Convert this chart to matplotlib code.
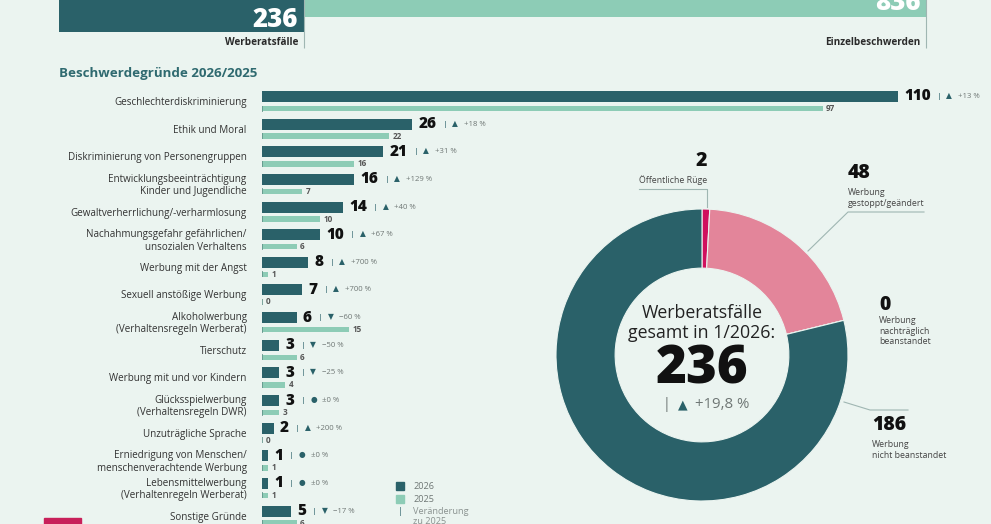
import matplotlib.pyplot as plt
from matplotlib.patches import Rectangle

plt.rcParams['font.family'] = ['Open Sans', 'DejaVu Sans']

# colours
BG = "#EBF4F0"
DARK = "#2A6169"
LIGHT = "#8DCCB6"
PINK = "#E3859A"
CRIMSON = "#D0105E"
TXT = "#2b2b2b"
GREY = "#6f7775"
LINE = "#9fb6b2"

# ---- data ----
top_values = [236, 836]
top_labels = ["Werberatsfälle", "Einzelbeschwerden"]

categories = [
    "Geschlechterdiskriminierung",
    "Ethik und Moral",
    "Diskriminierung von Personengruppen",
    "Entwicklungsbeeinträchtigung\nKinder und Jugendliche",
    "Gewaltverherrlichung/-verharmlosung",
    "Nachahmungsgefahr gefährlichen/\nunsozialen Verhaltens",
    "Werbung mit der Angst",
    "Sexuell anstößige Werbung",
    "Alkoholwerbung\n(Verhaltensregeln Werberat)",
    "Tierschutz",
    "Werbung mit und vor Kindern",
    "Glücksspielwerbung\n(Verhaltensregeln DWR)",
    "Unzuträgliche Sprache",
    "Erniedrigung von Menschen/\nmenschenverachtende Werbung",
    "Lebensmittelwerbung\n(Verhaltenregeln Werberat)",
    "Sonstige Gründe",
]
v2026 = [110, 26, 21, 16, 14, 10, 8, 7, 6, 3, 3, 3, 2, 1, 1, 5]
v2025 = [97, 22, 16, 7, 10, 6, 1, 0, 15, 6, 4, 3, 0, 1, 1, 6]
changes = ["+13 %", "+18 %", "+31 %", "+129 %", "+40 %", "+67 %", "+700 %", "+700 %",
           "\u221260 %", "\u221250 %", "\u221225 %", "±0 %", "+200 %", "±0 %", "±0 %", "\u221217 %"]

decision_values = [2, 48, 0, 186]
decision_names = ["Öffentliche Rüge", "Werbung\ngestoppt/geändert",
                  "Werbung\nnachträglich\nbeanstandet", "Werbung\nnicht beanstandet"]
decision_colors = [CRIMSON, PINK, "#bbbbbb", DARK]
total_cases = 236
total_change = "+19,8 %"

W, H = 991, 524


def box(l, t, w, h):
    return [l / W, 1 - (t + h) / H, w / W, h / H]


def symbol(ch):
    if ch.startswith("+"):
        return "\u25B2"
    if ch.startswith("±"):
        return "\u25CF"
    return "\u25BC"


fig = plt.figure(figsize=(W / 100, H / 100), dpi=100, facecolor=BG)

# pixel canvas for free text / decoration
cv = fig.add_axes([0, 0, 1, 1])
cv.set_xlim(0, W); cv.set_ylim(H, 0); cv.axis("off")

# ---- top bar ----
axt = fig.add_axes(box(59, -10, 867, 41.5))
axt.set_xlim(0, top_values[1]); axt.set_ylim(1, 0); axt.axis("off")
axt.barh(0.32, top_values[1], height=0.64, color=LIGHT)
axt.barh(0.5, top_values[0], height=1.0, color=DARK)
axt.vlines(top_values, 0, 1.39, color=LINE, lw=0.8, clip_on=False)
for v, yb in zip(top_values, [0.89, 0.49]):
    axt.annotate(str(v), xy=(v, yb), xytext=(-4, 0), textcoords="offset points",
                 ha="right", va="baseline", color="white", fontsize=18.5, fontweight=800)
for v, lab in zip(top_values, top_labels):
    axt.annotate(lab, xy=(v, 1.27), xytext=(-4, 0), textcoords="offset points",
                 ha="right", va="center", color=TXT, fontsize=7.2, fontweight="bold",
                 annotation_clip=False)

cv.text(59, 73, "Beschwerdegründe 2026/2025", ha="left", va="center",
        color="#2F6A70", fontsize=9.6, fontweight="bold")

# ---- bar chart ----
ROW = 27.64
axb = fig.add_axes(box(262, 85, 729, 439))
axb.set_xlim(0, 729 / 5.78)
axb.set_ylim((524 - 96.5) / ROW, (85 - 96.5) / ROW)
axb.axis("off")
rows = list(range(len(categories)))
off = 12 / ROW
axb.barh(rows, v2026, height=11 / ROW, color=DARK)
axb.barh([r + off for r in rows], v2025, height=5.5 / ROW, color=LIGHT)
axb.vlines([0] * len(rows), [r + off - 3 / ROW for r in rows],
           [r + off + 3 / ROW for r in rows], color="#5d8f86", lw=1.1)

for i, cat in enumerate(categories):
    axb.annotate(cat, xy=(0, i + off / 2), xytext=(-11, 0), textcoords="offset points",
                 ha="right", va="center", ma="right", fontsize=7.1, color="#333333",
                 annotation_clip=False)
    num = axb.annotate(str(v2026[i]), xy=(v2026[i], i), xytext=(4.5, 0),
                       textcoords="offset points", ha="left", va="center",
                       fontsize=11, fontweight=800, color="#111111")
    pipe = axb.annotate("|", xy=(1, 0.5), xycoords=num, xytext=(4.5, 0),
                        textcoords="offset points", ha="left", va="center",
                        fontsize=6, color=DARK)
    tri = axb.annotate(symbol(changes[i]), xy=(1, 0.5), xycoords=pipe, xytext=(3.5, 0),
                       textcoords="offset points", ha="left", va="center",
                       fontsize=5.5, color=DARK)
    axb.annotate(changes[i], xy=(1, 0.5), xycoords=tri, xytext=(4, 0),
                 textcoords="offset points", ha="left", va="center",
                 fontsize=5.6, color=GREY)
    axb.annotate(str(v2025[i]), xy=(v2025[i], i + off), xytext=(2.5, 0),
                 textcoords="offset points", ha="left", va="center",
                 fontsize=5.9, fontweight="bold", color="#555555")

# legend
cv.add_patch(Rectangle((396, 482), 8, 8, color=DARK))
cv.add_patch(Rectangle((396, 495), 8, 8, color=LIGHT))
cv.text(413, 486.5, "2026", fontsize=6.6, color=GREY, va="center")
cv.text(413, 499.5, "2025", fontsize=6.6, color=GREY, va="center")
cv.text(400, 512, "|", fontsize=6.5, color=DARK, va="center", ha="center")
cv.text(413, 507, "Veränderung\nzu 2025", fontsize=6.6, color="#8a9290", va="top",
        linespacing=1.1)

# logo block bottom left
cv.add_patch(Rectangle((44, 518), 37, 10, color="#C8205A"))

# ---- donut ----
axd = fig.add_axes(box(556, 209, 292, 292))
axd.pie(decision_values, colors=decision_colors, startangle=90, counterclock=False,
        radius=1, wedgeprops=dict(width=0.405, edgecolor=BG, linewidth=0.8))
axd.set_xlim(-1, 1); axd.set_ylim(-1, 1)
axd.text(0, 0.29, "Werberatsfälle", ha="center", va="center", fontsize=12.8, color="#222222")
axd.text(0, 0.151, "gesamt in 1/2026:", ha="center", va="center", fontsize=12.8, color="#222222")
axd.text(0, -0.10, str(total_cases), ha="center", va="center", fontsize=38,
         fontweight=800, color="#111111")
axd.text(-0.24, -0.342, "|", ha="center", va="center", fontsize=10, color=GREY)
axd.text(-0.13, -0.342, symbol(total_change), ha="center", va="center", fontsize=9, color=DARK)
axd.text(-0.05, -0.342, total_change, ha="left", va="center", fontsize=10.8, color=GREY)

# donut labels
big = dict(fontsize=14, fontweight=800, color="#111111", va="center")
small = dict(fontsize=6.3, color="#444444", va="top", linespacing=1.25)
cv.text(701, 161, str(decision_values[0]), ha="center", **big)
cv.text(673, 175, decision_names[0], ha="center", **small)
cv.plot([639, 707, 707], [189, 189, 207], color=LINE, lw=0.8)

cv.text(848, 173, str(decision_values[1]), ha="left", **big)
cv.text(848, 188, decision_names[1], ha="left", **small)
cv.plot([924, 848, 808], [212, 212, 251], color=LINE, lw=0.8)

cv.text(879, 305, str(decision_values[2]), ha="left", **big)
cv.text(879, 316, decision_names[2], ha="left", **small)

cv.text(872, 425, str(decision_values[3]), ha="left", **big)
cv.text(872, 440, decision_names[3], ha="left", **small)
cv.plot([844, 870, 908], [402, 410, 410], color=LINE, lw=0.8)

fig.savefig("out.png", dpi=100, facecolor=BG)
